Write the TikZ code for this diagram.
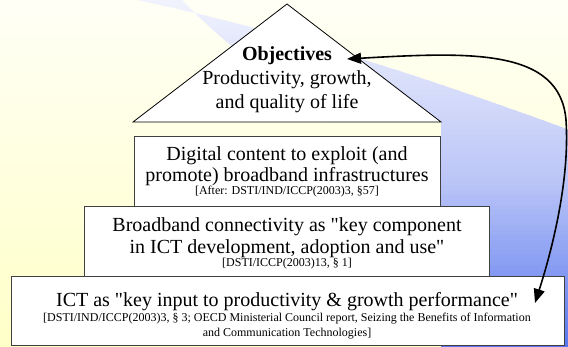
\documentclass[tikz,border=0pt]{standalone}
\usepackage{fontspec}
\setmainfont{Liberation Serif}
\newfontfamily\tnr{Liberation Serif}
\usetikzlibrary{arrows.meta}
\definecolor{bgtop}{HTML}{FFFFF6}
\definecolor{bgbot}{HTML}{FFFFC8}
\definecolor{wtop}{HTML}{F0F2FD}
\definecolor{wmid}{HTML}{BCC6F7}
\definecolor{wbot}{HTML}{5575EE}
\definecolor{boxline}{HTML}{404040}
\tikzset{
  box/.style={draw=boxline, fill=white, line width=0.8pt, inner sep=0pt},
  maintext/.style={align=center, inner sep=0pt, font=\tnr\fontsize{20}{21}\selectfont},
  citetext/.style={align=center, inner sep=0pt, font=\tnr\fontsize{12}{15}\selectfont},
  link/.style={line width=1.6pt, {Triangle[length=14pt,width=11pt]}-{Triangle[length=14pt,width=11pt]}}
}
\begin{document}
\begin{tikzpicture}[x=1pt,y=-1pt]
\useasboundingbox (0,0) rectangle (568,346);
% background
\fill[top color=bgtop, bottom color=bgbot] (0,0) rectangle (568,346);
\begin{scope}
  \clip (137,-2) -- (137,0) .. controls (280,30) and (420,75) .. (575,132) -- (575,352)
    -- (441,352) -- (441,122) -- (330,122)
    .. controls (270,80) and (210,30) .. (182,0) -- (182,-2) -- cycle;
  \foreach \i in {0,...,69}{
    \ifnum\i<35
      \pgfmathtruncatemacro\p{100*\i/35}\def\cc{wmid!\p!wtop}
    \else
      \pgfmathtruncatemacro\p{100*(\i-35)/35}\def\cc{wbot!\p!wmid}
    \fi
    \fill[fill=\cc] (120,\i*5) rectangle (575,\i*5+5.6);
  }
\end{scope}
% pyramid top
\draw[fill=white, line width=0.8pt] (287,4) -- (441,122) -- (133,122) -- cycle;
\node[align=center, inner sep=0pt, font=\tnr\fontsize{20}{24}\selectfont] (obj) at (287,80)
  {\textbf{Objectives}\\Productivity, growth,\\and quality of life};
% boxes
\node[box, minimum width=306pt, minimum height=70pt] (b1) at (287,171) {};
\node[box, minimum width=405pt, minimum height=70pt] (b2) at (286.5,241) {};
\node[box, minimum width=553pt, minimum height=69pt] (b3) at (287.5,310.5) {};
\node[maintext] (t1) at (287,166.5) {Digital content to exploit (and\\promote) broadband infrastructures};
\node[citetext] (c1) at (287,192) {[After: DSTI/IND/ICCP(2003)3, §57]};
\node[maintext, font=\tnr\fontsize{20}{22}\selectfont] (t2) at (287,238) {Broadband connectivity as "key component\\in ICT development, adoption and use"};
\node[citetext] (c2) at (287,263.5) {[DSTI/ICCP(2003)13, § 1]};
\node[maintext] (t3) at (287,302) {ICT as "key input to productivity \& growth performance"};
\node[citetext] (c3) at (287,326.5) {[DSTI/IND/ICCP(2003)3, § 3; OECD Ministerial Council report, Seizing the Benefits of Information\\and Communication Technologies]};
% connector
\coordinate (endA) at (347,59);
\coordinate (endB) at (535,303);
\draw[link] (endA) .. controls (470,52) and (560,48) .. (566,120)
  .. controls (570,180) and (552,250) .. (endB);
\end{tikzpicture}
\end{document}
